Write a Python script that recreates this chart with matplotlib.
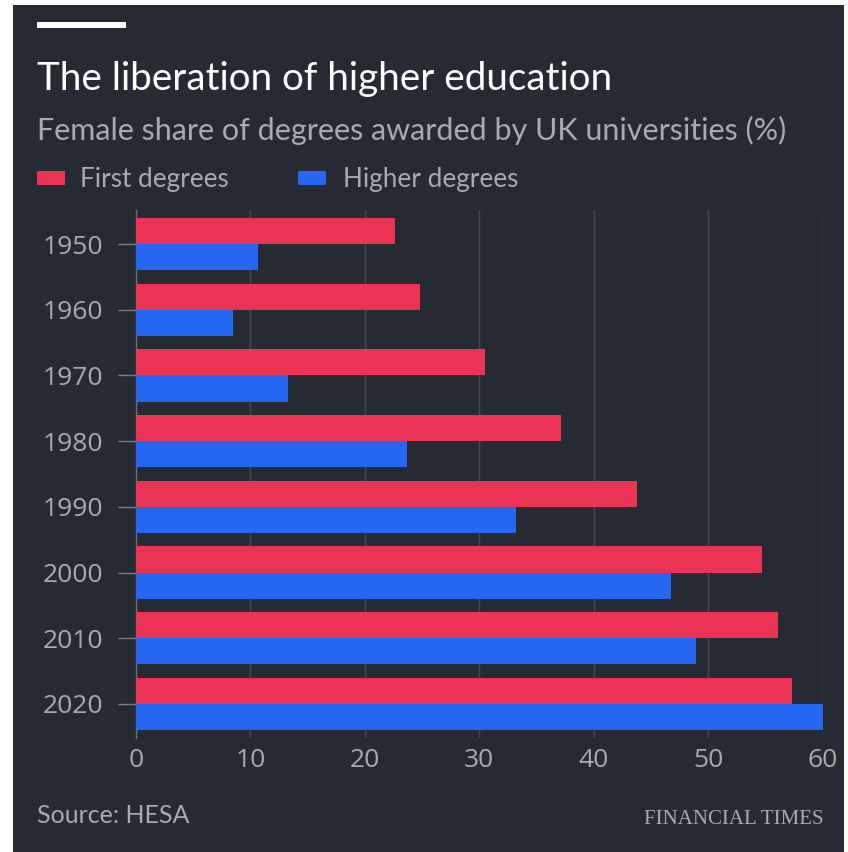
import matplotlib
matplotlib.use("Agg")
import matplotlib.pyplot as plt
from matplotlib.patches import Rectangle
import numpy as np

years = ["1950", "1960", "1970", "1980", "1990", "2000", "2010", "2020"]
first_degrees = [22.6, 24.8, 30.5, 37.1, 43.8, 54.7, 56.1, 57.3]
higher_degrees = [10.7, 8.5, 13.3, 23.7, 33.2, 46.7, 48.9, 60.0]
x_ticks = [0, 10, 20, 30, 40, 50, 60]

BG = "#262a33"
RED = "#eb3356"
BLUE = "#2567f1"
GRID = "#464951"
TXT = "#a9aaae"

plt.rcParams['font.family'] = ['Lato', 'DejaVu Sans']

W, H = 848, 852
fig = plt.figure(figsize=(W / 100, H / 100), dpi=100, facecolor="white")
fig.patches.append(Rectangle((13 / W, 0), (844 - 13) / W, (852 - 5) / H,
                             transform=fig.transFigure, facecolor=BG,
                             edgecolor="none", zorder=-10))

ax = fig.add_axes([135.7 / W, 1 - 738 / H, (823 - 135.7) / W, (738 - 210) / H])
ax.set_facecolor(BG)
ax.set_zorder(1)

y = np.arange(len(years))
ax.barh(y - 0.2, first_degrees, height=0.4, color=RED, zorder=3)
ax.barh(y + 0.2, higher_degrees, height=0.4, color=BLUE, zorder=3)

ax.set_xlim(0, 60)
ax.set_ylim(len(years) - 0.48, -0.52)
ax.set_xticks(x_ticks)
ax.set_xticklabels([str(v) for v in x_ticks], family=["Open Sans", "DejaVu Sans"])
ax.set_yticks(y)
ax.set_yticklabels(years, family=["Open Sans", "DejaVu Sans"])

for s in ["top", "right", "bottom"]:
    ax.spines[s].set_visible(False)
ax.spines["left"].set_color("#6a6d74")
ax.spines["left"].set_linewidth(1)

ax.xaxis.grid(True, color=GRID, linewidth=1, zorder=0)
ax.set_axisbelow(True)
ax.tick_params(axis="x", length=0, pad=7, labelsize=19, labelcolor=TXT)
ax.tick_params(axis="y", length=13, width=1, color="#7a7d84", pad=10.5,
               labelsize=19, labelcolor=TXT)

# Header
fig.patches.append(Rectangle((37 / W, 1 - 27.5 / H), 89 / W, 5.5 / H,
                             transform=fig.transFigure, facecolor="white",
                             edgecolor="none", zorder=2))
fig.text(37 / W, 1 - 90 / H, "The liberation of higher education",
         color="white", fontsize=27.8, ha="left", va="baseline")
fig.text(37 / W, 1 - 140 / H,
         "Female share of degrees awarded by UK universities (%)",
         color=TXT, fontsize=22, ha="left", va="baseline")

# Legend
fig.patches.append(Rectangle((37 / W, 1 - 185 / H), 28 / W, 14 / H,
                             transform=fig.transFigure, facecolor=RED,
                             edgecolor="none", zorder=2))
fig.text(80 / W, 1 - 187 / H, "First degrees", color=TXT, fontsize=18.8,
         ha="left", va="baseline")
fig.patches.append(Rectangle((298 / W, 1 - 185 / H), 28 / W, 14 / H,
                             transform=fig.transFigure, facecolor=BLUE,
                             edgecolor="none", zorder=2))
fig.text(343 / W, 1 - 187 / H, "Higher degrees", color=TXT, fontsize=18.8,
         ha="left", va="baseline")

# Footer
fig.text(37 / W, 1 - 823 / H, "Source: HESA", color=TXT, fontsize=18,
         ha="left", va="baseline")
fig.text(823 / W, 1 - 824 / H, "FINANCIAL TIMES", color=TXT, fontsize=15,
         family=["Liberation Serif", "DejaVu Serif"], ha="right", va="baseline")

fig.savefig("out.png", dpi=100, facecolor=fig.get_facecolor())
